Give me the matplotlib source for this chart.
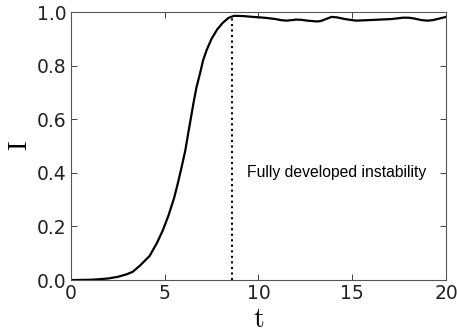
import numpy as np
import matplotlib
matplotlib.use("Agg")
import matplotlib.pyplot as plt

# values
t = [0, 0.5, 1.0, 1.5, 2.0, 2.5, 3.0, 3.3, 3.7, 4.2, 4.6, 4.9, 5.2, 5.5, 5.7, 5.9, 6.1, 6.25, 6.4, 6.55, 6.7, 6.9, 7.05, 7.25,
     7.5, 7.8, 8.1, 8.4, 8.7,
     9.2, 9.7, 10.3, 10.9, 11.2, 11.5, 11.8, 12.0, 12.3, 12.6, 13.1, 13.3, 13.6, 13.9, 14.2, 14.6, 15.2, 15.9, 16.5, 17.1, 17.7,
     18.0, 18.3, 18.7, 19.0, 19.3, 19.6, 20.0]
I = [0.0, 0.0005, 0.001, 0.003, 0.006, 0.012, 0.022, 0.031, 0.055, 0.09, 0.14, 0.185, 0.24, 0.305, 0.36, 0.42, 0.483, 0.545, 0.605, 0.665, 0.72, 0.775, 0.82, 0.86,
     0.9, 0.935, 0.96, 0.978, 0.986,
     0.985, 0.982, 0.979, 0.974, 0.970, 0.968, 0.970, 0.972, 0.971, 0.968, 0.965, 0.966, 0.974, 0.982, 0.980, 0.974, 0.968, 0.970, 0.972, 0.974, 0.979,
     0.979, 0.976, 0.970, 0.968, 0.970, 0.975, 0.982]
t_dev = 8.6
label = "Fully developed instability"

plt.rcParams['mathtext.fontset'] = 'cm'
fig = plt.figure(figsize=(4.57, 3.35), dpi=100)
ax = fig.add_axes([0.155, 0.164, 0.821, 0.8])
ax.plot(t, I, color='black', lw=1.6)
ax.vlines(t_dev, 0, 0.986, colors='black', linestyles=':', lw=1.5)
ax.text(9.38, 0.40, label, fontsize=11.3, family='Liberation Sans', va='center')

ax.set_xlim(0, 20)
ax.set_ylim(0, 1.0)
ax.set_xticks([0, 5, 10, 15, 20])
ax.set_yticks([0.0, 0.2, 0.4, 0.6, 0.8, 1.0])
ax.set_yticklabels(['0.0', '0.2', '0.4', '0.6', '0.8', '1.0'])
ax.tick_params(direction='in', top=True, right=True, length=4, width=0.6, labelsize=13.5, pad=3, colors='#222222')
for s in ax.spines.values():
    s.set_linewidth(0.8)
    s.set_color('#555555')
ax.set_xlabel(r'$\mathrm{t}$', fontsize=20, labelpad=1)
ax.set_ylabel(r'$\mathrm{I}$', fontsize=19, labelpad=3)

fig.savefig('out.png', dpi=100, facecolor='white')
